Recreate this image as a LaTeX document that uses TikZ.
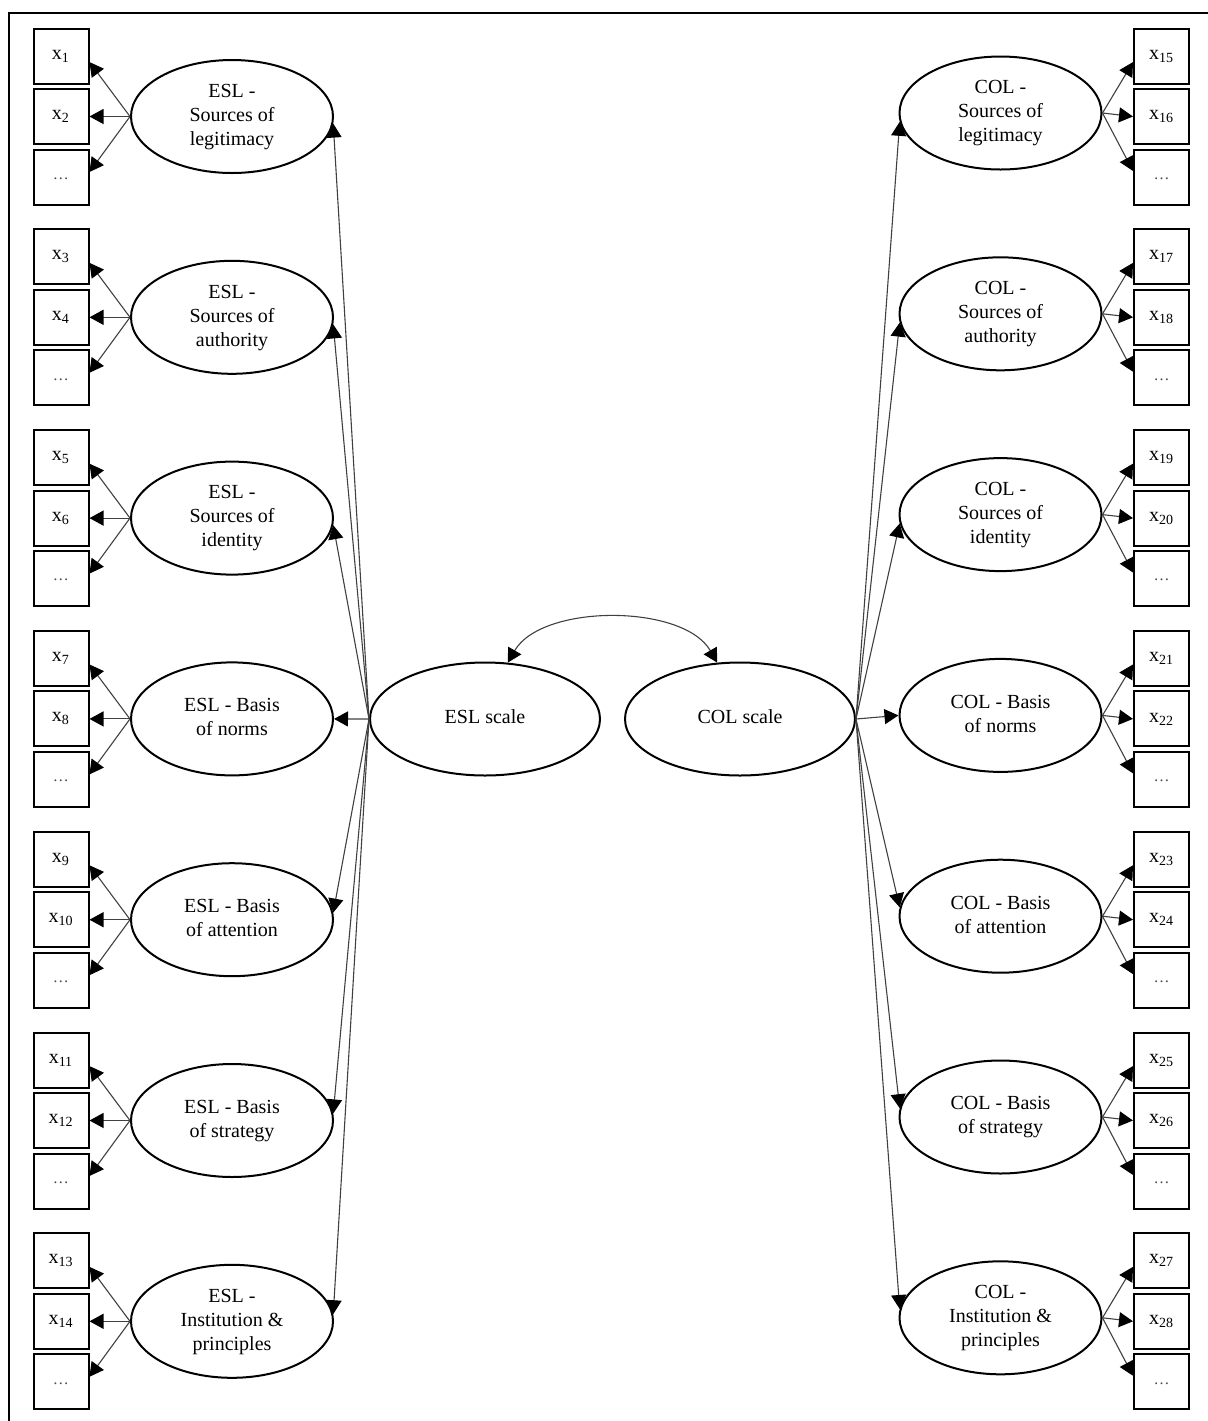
\documentclass[tikz,border=0pt]{standalone}
\usepackage{fontspec}
\setmainfont{Liberation Serif}
\usetikzlibrary{shapes.geometric,arrows.meta}
\newcommand\lbltxt[1]{\raisebox{-1pt}{\begin{tabular}{@{}c@{}}#1\end{tabular}}}
\newcommand\obstxt[1]{\raisebox{-1.8pt}{#1}}
\begin{document}
\begin{tikzpicture}[x=0.5pt,y=-0.5pt,
  lat/.style={ellipse,draw,line width=1pt,minimum width=101pt,minimum height=56.5pt,inner sep=0pt,font=\fontsize{10}{12}\selectfont},
  scl/.style={lat,minimum width=115pt},
  obs/.style={rectangle,draw,line width=1pt,minimum size=27.5pt,inner sep=0pt,font=\fontsize{10}{12}\selectfont},
  con/.style={draw=black!75,line width=0.55pt,-{Triangle[length=7pt,width=7.5pt,color=black]}},
  dbl/.style={draw=black!75,line width=0.55pt,{Triangle[length=7pt,width=7.5pt,color=black]}-{Triangle[length=7pt,width=7.5pt,color=black]}},
  dots/.style={text=black!70,font=\footnotesize}
]
\useasboundingbox (0,0) rectangle (1208,1421);
\draw[line width=1.2pt] (9,1425) -- (9,13) -- (1212,13);

\node[scl] (esl) at (485,719) {\lbltxt{ESL scale}};
\node[scl] (col) at (740,719) {\lbltxt{COL scale}};

\foreach \g/\txt/\ang in {0/{ESL -\\Sources of\\legitimacy}/-4,
                    1/{ESL -\\Sources of\\authority}/-4,
                    2/{ESL -\\Sources of\\identity}/-4,
                    3/{ESL - Basis\\of norms}/0,
                    4/{ESL - Basis\\of attention}/4,
                    5/{ESL - Basis\\of strategy}/4,
                    6/{ESL -\\Institution \&\\principles}/4}{
  \pgfmathtruncatemacro\na{2*\g+1}
  \pgfmathtruncatemacro\nb{2*\g+2}
  \node[lat] (l\g) at (232,{116.5+200.8*\g}) {\lbltxt{\txt}};
  \node[obs] (lb\g a) at (61,{56+200.8*\g}) {\obstxt{x\textsubscript{\na}}};
  \node[obs] (lb\g b) at (61,{116.5+200.8*\g}) {\obstxt{x\textsubscript{\nb}}};
  \node[obs,dots] (lb\g c) at (61,{177+200.8*\g}) {\raisebox{-2.5pt}{\ldots}};
  \draw[con] (l\g.west) -- (lb\g a.-12);
  \draw[con] (l\g.west) -- (lb\g b.east);
  \draw[con] (l\g.west) -- (lb\g c.10);
  \draw[con] (esl.west) -- (l\g.\ang);
}

\foreach \g/\txt/\ang in {0/{COL -\\Sources of\\legitimacy}/185,
                    1/{COL -\\Sources of\\authority}/185,
                    2/{COL -\\Sources of\\identity}/185,
                    3/{COL - Basis\\of norms}/180,
                    4/{COL - Basis\\of attention}/175,
                    5/{COL - Basis\\of strategy}/175,
                    6/{COL -\\Institution \&\\principles}/175}{
  \pgfmathtruncatemacro\na{2*\g+15}
  \pgfmathtruncatemacro\nb{2*\g+16}
  \node[lat] (r\g) at (1000.5,{113+200.8*\g}) {\lbltxt{\txt}};
  \node[obs] (rb\g a) at (1161.5,{56+200.8*\g}) {\obstxt{x\textsubscript{\na}}};
  \node[obs] (rb\g b) at (1161.5,{116.5+200.8*\g}) {\obstxt{x\textsubscript{\nb}}};
  \node[obs,dots] (rb\g c) at (1161.5,{177+200.8*\g}) {\raisebox{-2.5pt}{\ldots}};
  \draw[con] (r\g.east) -- (rb\g a.192);
  \draw[con] (r\g.east) -- (rb\g b.west);
  \draw[con] (r\g.east) -- (rb\g c.168);
  \draw[con] (col.east) -- (r\g.\ang);
}

\draw[dbl] (esl.68) .. controls +(34,-59) and +(-34,-59) .. (col.112);
\end{tikzpicture}
\end{document}
